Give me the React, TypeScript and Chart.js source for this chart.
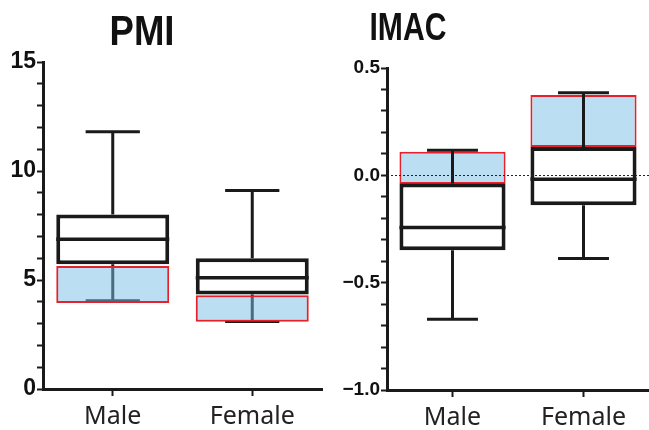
import React, { useEffect, useRef } from 'react';
import { Chart, registerables } from 'chart.js';

Chart.register(...registerables);

// ---------- DATA ----------
const categories = ['Male', 'Female'];

const pmiWhiskerLow = [4.05, 3.1];
const pmiQ1 = [5.72, 4.34];
const pmiMedian = [6.87, 5.1];
const pmiQ3 = [8.0, 6.0];
const pmiWhiskerHigh = [11.8, 9.1];
const pmiHighlightLow = [3.94, 3.09];
const pmiHighlightHigh = [5.64, 4.3];

const imacWhiskerLow = [-0.671, -0.387];
const imacQ1 = [-0.349, -0.139];
const imacMedian = [-0.243, -0.018];
const imacQ3 = [-0.038, 0.132];
const imacWhiskerHigh = [0.117, 0.385];
const imacHighlightLow = [-0.04, 0.132];
const imacHighlightHigh = [0.11, 0.374];

const pmiTitle = 'PMI';
const imacTitle = 'IMAC';

const pmiAxis = { min: 0, max: 15, step: 1, major: 5, decimals: 0 };
const imacAxis = { min: -1, max: 0.5, step: 0.1, major: 0.5, decimals: 1 };

// ---------- PLUGIN ----------
const INK = '#1a1a1a';

const boxPlugin = {
  id: 'boxWhiskers',
  beforeDatasetsDraw(chart: any, _a: any, opts: any) {
    if (!opts.whiskersOnTop) drawWhiskers(chart, opts);
  },
  afterDatasetsDraw(chart: any, _a: any, opts: any) {
    if (opts.whiskersOnTop) drawWhiskers(chart, opts);
    drawMedians(chart, opts);
    if (opts.zeroLine) {
      const { ctx, chartArea } = chart;
      const y = chart.scales.y.getPixelForValue(0);
      ctx.save();
      ctx.strokeStyle = '#222';
      ctx.lineWidth = 1;
      ctx.setLineDash([2, 2]);
      ctx.beginPath();
      ctx.moveTo(chartArea.left, Math.round(y) + 0.5);
      ctx.lineTo(chartArea.right, Math.round(y) + 0.5);
      ctx.stroke();
      ctx.restore();
    }
  },
  afterDraw(chart: any, _a: any, opts: any) {
    const t = opts.title;
    if (!t) return;
    const ctx = chart.ctx;
    ctx.save();
    ctx.font = `bold ${t.size}px "Liberation Sans", Arial, sans-serif`;
    const w = ctx.measureText(t.text).width;
    ctx.translate(t.x, t.baseline);
    ctx.scale(t.width / w, 1);
    ctx.textAlign = 'center';
    ctx.textBaseline = 'alphabetic';
    ctx.fillStyle = '#111';
    ctx.fillText(t.text, 0, 0);
    ctx.restore();
  },
};

function drawWhiskers(chart: any, opts: any) {
  const { ctx } = chart;
  const y = chart.scales.y;
  const meta = chart.getDatasetMeta(0);
  ctx.save();
  ctx.strokeStyle = INK;
  ctx.lineWidth = 3;
  meta.data.forEach((el: any, i: number) => {
    const x = el.x;
    const half = el.width * 0.24;
    const yLo = y.getPixelForValue(opts.low[i]);
    const yHi = y.getPixelForValue(opts.high[i]);
    const yQ1 = y.getPixelForValue(opts.q1[i]);
    const yQ3 = y.getPixelForValue(opts.q3[i]);
    ctx.beginPath();
    ctx.moveTo(x, yQ3);
    ctx.lineTo(x, yHi);
    ctx.moveTo(x, yQ1);
    ctx.lineTo(x, yLo);
    ctx.moveTo(x - half, yHi);
    ctx.lineTo(x + half, yHi);
    ctx.moveTo(x - half, yLo);
    ctx.lineTo(x + half, yLo);
    ctx.stroke();
  });
  ctx.restore();
}

function drawMedians(chart: any, opts: any) {
  const { ctx } = chart;
  const y = chart.scales.y;
  const meta = chart.getDatasetMeta(0);
  ctx.save();
  ctx.strokeStyle = INK;
  ctx.lineWidth = 3.5;
  meta.data.forEach((el: any, i: number) => {
    const ym = y.getPixelForValue(opts.median[i]);
    ctx.beginPath();
    ctx.moveTo(el.x - el.width / 2, ym);
    ctx.lineTo(el.x + el.width / 2, ym);
    ctx.stroke();
  });
  ctx.restore();
}

// ---------- PANEL ----------
type PanelSpec = {
  left: number;
  width: number;
  axisWidth: number;
  padTop: number;
  padRight: number;
  xAxisHeight: number;
  axis: { min: number; max: number; step: number; major: number; decimals: number };
  tickSize: number;
  low: number[];
  q1: number[];
  median: number[];
  q3: number[];
  high: number[];
  hlLow: number[];
  hlHigh: number[];
  highlightColor: string;
  boxOnTop: boolean;
  whiskersOnTop: boolean;
  zeroLine: boolean;
  title: { text: string; x: number; baseline: number; size: number; width: number };
};

function Panel({ spec }: { spec: PanelSpec }) {
  const ref = useRef<HTMLCanvasElement | null>(null);
  useEffect(() => {
    if (!ref.current) return;
    const a = spec.axis;
    const chart = new Chart(ref.current, {
      type: 'bar',
      data: {
        labels: categories,
        datasets: [
          {
            label: 'box',
            data: categories.map((_, i) => [spec.q1[i], spec.q3[i]]) as any,
            backgroundColor: '#ffffff',
            borderColor: INK,
            borderWidth: 4,
            borderSkipped: false,
            grouped: false,
            categoryPercentage: 1,
            barPercentage: 0.81,
            order: spec.boxOnTop ? 1 : 2,
          } as any,
          {
            label: 'highlight',
            data: categories.map((_, i) => [spec.hlLow[i], spec.hlHigh[i]]) as any,
            backgroundColor: spec.highlightColor,
            borderColor: '#e8202a',
            borderWidth: 2,
            borderSkipped: false,
            grouped: false,
            categoryPercentage: 1,
            barPercentage: 0.81,
            order: spec.boxOnTop ? 2 : 1,
          } as any,
        ],
      },
      options: {
        responsive: false,
        maintainAspectRatio: false,
        animation: false,
        layout: { padding: { top: spec.padTop, right: spec.padRight, left: 0, bottom: 0 } },
        plugins: {
          legend: { display: false },
          tooltip: { enabled: false },
          title: { display: false },
          boxWhiskers: {
            low: spec.low,
            q1: spec.q1,
            median: spec.median,
            q3: spec.q3,
            high: spec.high,
            whiskersOnTop: spec.whiskersOnTop,
            zeroLine: spec.zeroLine,
            title: spec.title,
          },
        } as any,
        scales: {
          x: {
            type: 'category',
            offset: true,
            grid: {
              display: true,
              drawOnChartArea: false,
              offset: false,
              drawTicks: true,
              tickLength: 7,
              tickWidth: 2,
              tickColor: INK,
              color: INK,
            },
            border: { display: true, width: 3, color: INK },
            ticks: {
              color: '#222',
              padding: 6,
              font: { family: '"Noto Sans", sans-serif', size: 25 },
              maxRotation: 0,
            },
            afterFit: (s: any) => {
              s.height = spec.xAxisHeight;
            },
          },
          y: {
            type: 'linear',
            min: a.min,
            max: a.max,
            grid: {
              display: true,
              drawOnChartArea: false,
              drawTicks: true,
              tickLength: 6,
              tickWidth: 2,
              tickColor: INK,
              color: INK,
            },
            border: { display: true, width: 3, color: INK },
            ticks: {
              stepSize: a.step,
              maxTicksLimit: 100,
              autoSkip: false,
              padding: 1,
              color: '#111',
              font: { family: '"Liberation Sans", Arial, sans-serif', size: spec.tickSize, weight: 'bold' },
              callback: (v: any) => {
                const n = Math.round(v / a.major);
                if (Math.abs(n * a.major - v) > 1e-6) return '';
                return (n * a.major).toFixed(a.decimals).replace('-', '\u2212');
              },
            },
            afterFit: (s: any) => {
              s.width = spec.axisWidth;
            },
          },
        },
      } as any,
      plugins: [boxPlugin as any],
    });
    return () => chart.destroy();
  }, [spec]);
  return (
    <canvas
      ref={ref}
      width={spec.width}
      height={430}
      style={{ position: 'absolute', left: spec.left, top: 0, width: spec.width, height: 430 }}
    />
  );
}

const pmiSpec: PanelSpec = {
  left: 0,
  width: 325,
  axisWidth: 43,
  padTop: 62,
  padRight: 3,
  xAxisHeight: 41,
  axis: pmiAxis,
  tickSize: 23,
  low: pmiWhiskerLow,
  q1: pmiQ1,
  median: pmiMedian,
  q3: pmiQ3,
  high: pmiWhiskerHigh,
  hlLow: pmiHighlightLow,
  hlHigh: pmiHighlightHigh,
  highlightColor: 'rgba(121,189,229,0.5)',
  boxOnTop: false,
  whiskersOnTop: false,
  zeroLine: false,
  title: { text: pmiTitle, x: 142, baseline: 45, size: 42, width: 65 },
};

const imacSpec: PanelSpec = {
  left: 325,
  width: 324,
  axisWidth: 62,
  padTop: 68,
  padRight: 0,
  xAxisHeight: 40,
  axis: imacAxis,
  tickSize: 19,
  low: imacWhiskerLow,
  q1: imacQ1,
  median: imacMedian,
  q3: imacQ3,
  high: imacWhiskerHigh,
  hlLow: imacHighlightLow,
  hlHigh: imacHighlightHigh,
  highlightColor: 'rgb(188,222,242)',
  boxOnTop: true,
  whiskersOnTop: true,
  zeroLine: true,
  title: { text: imacTitle, x: 83, baseline: 40, size: 39, width: 77 },
};

export default function App() {
  return (
    <div style={{ position: 'fixed', left: 0, top: 0, width: 649, height: 430, background: '#ffffff', overflow: 'hidden' }}>
      <Panel spec={pmiSpec} />
      <Panel spec={imacSpec} />
    </div>
  );
}
